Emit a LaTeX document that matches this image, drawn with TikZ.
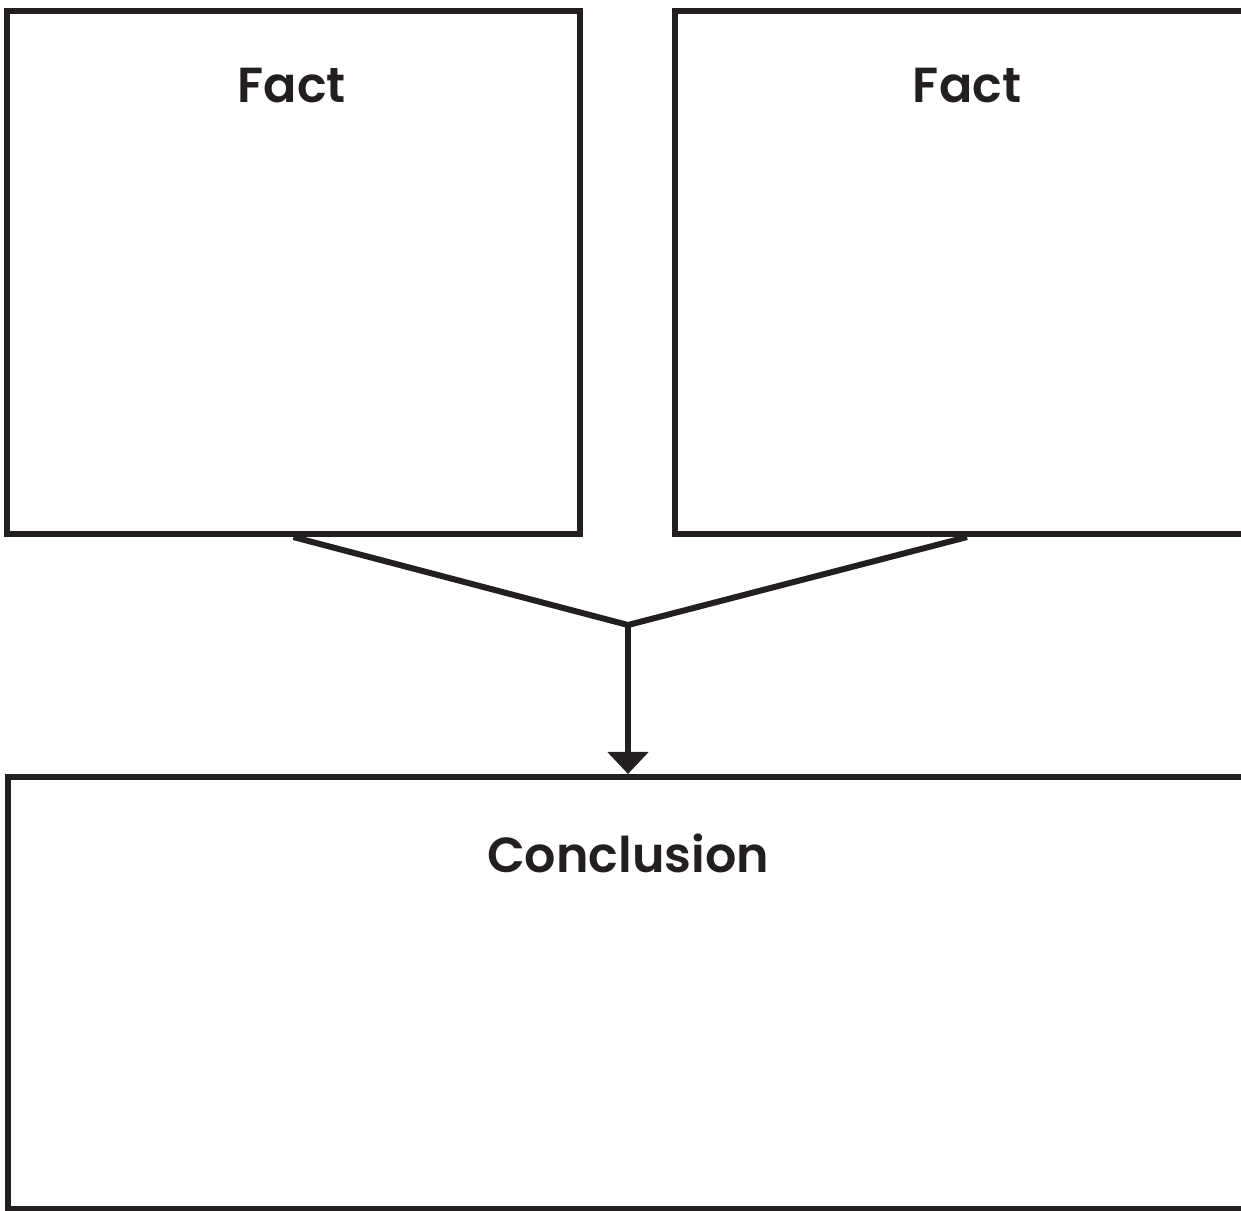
\documentclass[tikz,border=0pt]{standalone}
\usepackage{fontspec}
\usepackage{xcolor}
\usetikzlibrary{arrows.meta,positioning,calc}
\newfontfamily\titlefont{Poppins SemiBold}
\definecolor{ink}{HTML}{231F20}
\tikzset{
  panel/.style={draw=ink,line width=0.15cm,rectangle,inner sep=0pt},
  heading/.style={font=\titlefont\fontsize{35}{42}\selectfont,text=ink,anchor=base,inner sep=0pt},
  link/.style={draw=ink,line width=0.15cm,line join=miter},
}
\begin{document}
\begin{tikzpicture}[x=0.025cm,y=-0.025cm]
        \useasboundingbox (0,0) rectangle (1241,1210);
        \node[panel,minimum width=14.325cm,minimum height=13.075cm] (factL) at (293.5,272.5) {};
        \node[panel,minimum width=14.6cm,minimum height=13.075cm] (factR) at (967,272.5) {};
        \node[panel,minimum width=31cm,minimum height=10.8cm] (concl) at (628,993) {};
        \node[heading] (factLt) at (292,102) {Fact};
        \node[heading] (factRt) at (967,102) {Fact};
        \node[heading] (conclt) at (628,872) {Conclusion};
        \coordinate (join) at (628,625);
        \draw[link] (factL.south) -- (join) -- (factR.south);
        \draw[link,-{Triangle[length=0.55cm,width=1cm]}] (join) -- (concl.north);
      \end{tikzpicture}
\end{document}
